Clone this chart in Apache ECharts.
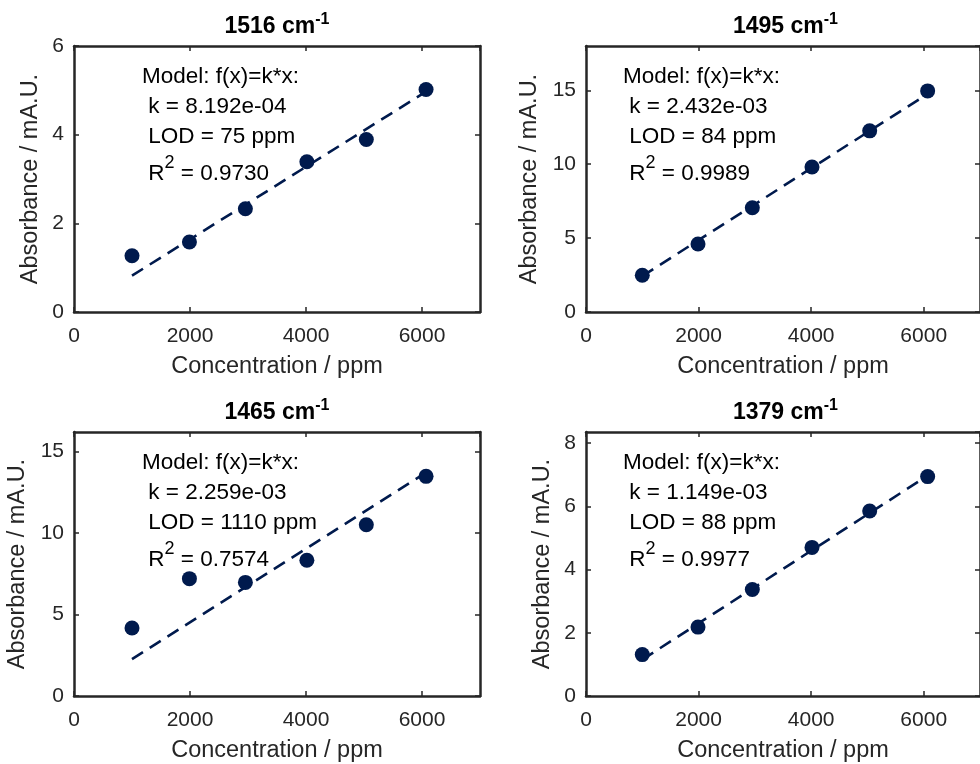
<!DOCTYPE html>
<html><head><meta charset="utf-8">
<script src="https://cdn.jsdelivr.net/npm/echarts@6/dist/echarts.min.js"></script>
<style>html,body{margin:0;padding:0;background:#fff}#c{width:980px;height:764px}</style>
</head><body><div id="c"></div>
<script>
// ---- data ----
const concentration = [1000, 1990, 2955, 4015, 5040, 6070];
const wavenumbers = ['1516', '1495', '1465', '1379'];
const abs1516 = [1.27, 1.58, 2.33, 3.39, 3.89, 5.02];
const abs1495 = [2.49, 4.60, 7.05, 9.81, 12.26, 14.96];
const abs1465 = [4.17, 7.20, 6.97, 8.33, 10.51, 13.48];
const abs1379 = [1.31, 2.18, 3.37, 4.70, 5.85, 6.94];
const fitX = [1000, 6070];
const fit1516 = [0.82, 4.97];
const fit1495 = [2.43, 14.76];
const fit1465 = [2.26, 13.71];
const fit1379 = [1.15, 6.97];
const kText = ['8.192e-04', '2.432e-03', '2.259e-03', '1.149e-03'];
const lodText = ['75', '84', '1110', '88'];
const r2Text = ['0.9730', '0.9989', '0.7574', '0.9977'];
const yMaxes = [6, 18, 16.2, 8.35];
const yIntervals = [2, 5, 5, 2];
const xMax = 7000, xInterval = 2000;

const absSeries = [abs1516, abs1495, abs1465, abs1379];
const fitSeries = [fit1516, fit1495, fit1465, fit1379];

// ---- layout ----
const boxes = [
  {l: 74, t: 46, w: 406, h: 266, yGap: 31, tx: 142},
  {l: 586, t: 46, w: 405, h: 266, yGap: 44, tx: 623},
  {l: 74, t: 432, w: 406, h: 266, yGap: 44, tx: 142},
  {l: 586, t: 432, w: 405, h: 266, yGap: 31, tx: 623}
];
const navy = '#001a4d';
const axisCol = '#262626';
const FONT = '"Liberation Sans", Arial, Helvetica, sans-serif';

const grid = [], xAxis = [], yAxis = [], series = [], graphic = [];
boxes.forEach((b, i) => {
  grid.push({left: b.l, top: b.t, width: b.w, height: b.h, containLabel: false});
  const lineStyle = {color: axisCol, width: 2.5};
  const tick = {show: true, inside: true, length: 5, lineStyle: {color: axisCol, width: 1.5}};
  xAxis.push({
    gridIndex: i, type: 'value', min: 0, max: xMax, interval: xInterval, position: 'bottom',
    axisLine: {show: true, onZero: false, lineStyle}, axisTick: tick, splitLine: {show: false},
    axisLabel: {color: axisCol, fontSize: 21, fontFamily: FONT, margin: 14, showMaxLabel: false,
      formatter: v => String(v)},
    name: 'Concentration / ppm', nameLocation: 'middle', nameGap: 43,
    nameTextStyle: {color: axisCol, fontSize: 23.5, fontFamily: FONT}
  });
  xAxis.push({
    gridIndex: i, type: 'value', min: 0, max: xMax, interval: xInterval, position: 'top',
    axisLine: {show: true, onZero: false, lineStyle}, axisTick: tick, splitLine: {show: false},
    axisLabel: {show: false}
  });
  yAxis.push({
    gridIndex: i, type: 'value', min: 0, max: yMaxes[i], interval: yIntervals[i], position: 'left',
    axisLine: {show: true, onZero: false, lineStyle}, axisTick: tick, splitLine: {show: false},
    axisLabel: {color: axisCol, fontSize: 21, fontFamily: FONT, margin: 10,
      showMaxLabel: (yMaxes[i] % yIntervals[i] === 0)},
    name: 'Absorbance / mA.U.', nameLocation: 'middle', nameGap: b.yGap,
    nameTextStyle: {color: axisCol, fontSize: 23.5, fontFamily: FONT}
  });
  yAxis.push({
    gridIndex: i, type: 'value', min: 0, max: yMaxes[i], interval: yIntervals[i], position: 'right',
    axisLine: {show: true, onZero: false, lineStyle}, axisTick: tick, splitLine: {show: false},
    axisLabel: {show: false}
  });
  series.push({
    type: 'line', xAxisIndex: 2 * i, yAxisIndex: 2 * i,
    data: fitX.map((x, j) => [x, fitSeries[i][j]]),
    showSymbol: false, symbol: 'none', silent: true, z: 2,
    lineStyle: {color: navy, width: 2.6, type: [13, 8]}
  });
  series.push({
    type: 'scatter', xAxisIndex: 2 * i, yAxisIndex: 2 * i,
    data: concentration.map((x, j) => [x, absSeries[i][j]]),
    symbol: 'circle', symbolSize: 15, itemStyle: {color: navy, opacity: 1}, z: 3
  });
  // title
  graphic.push({
    type: 'text', x: b.l + b.w / 2 - (i % 2 ? 3 : 0), y: b.t - 21,
    style: {
      text: '{a|' + wavenumbers[i] + ' cm}{s|-1}', textAlign: 'center', textVerticalAlign: 'middle',
      rich: {
        a: {fontSize: 23, fontWeight: 'bold', fontFamily: FONT, color: '#000', lineHeight: 27, verticalAlign: 'bottom'},
        s: {fontSize: 16, fontWeight: 'bold', fontFamily: FONT, color: '#000', lineHeight: 16, verticalAlign: 'top'}
      }
    }
  });
  // annotation
  const lines = [
    {t: 'Model: f(x)=k*x:', dy: 31},
    {t: ' k = ' + kText[i], dy: 61},
    {t: ' LOD = ' + lodText[i] + ' ppm', dy: 91}
  ];
  lines.forEach(ln => {
    graphic.push({
      type: 'text', x: b.tx, y: b.t + ln.dy,
      style: {text: ln.t, fontSize: 22.5, fontFamily: FONT, fill: '#000', textVerticalAlign: 'middle'}
    });
  });
  graphic.push({
    type: 'text', x: b.tx, y: b.t + 124,
    style: {
      text: '{m| R}{s|2}{m| = ' + r2Text[i] + '}', textVerticalAlign: 'middle',
      rich: {
        m: {fontSize: 22.5, fontFamily: FONT, color: '#000', lineHeight: 31, verticalAlign: 'bottom'},
        s: {fontSize: 18, fontFamily: FONT, color: '#000', lineHeight: 18, verticalAlign: 'top'}
      }
    }
  });
});

const chart = echarts.init(document.getElementById('c'), null, {renderer: 'canvas'});
chart.setOption({
  animation: false, backgroundColor: '#fff',
  grid, xAxis, yAxis, series, graphic
});
</script></body></html>
